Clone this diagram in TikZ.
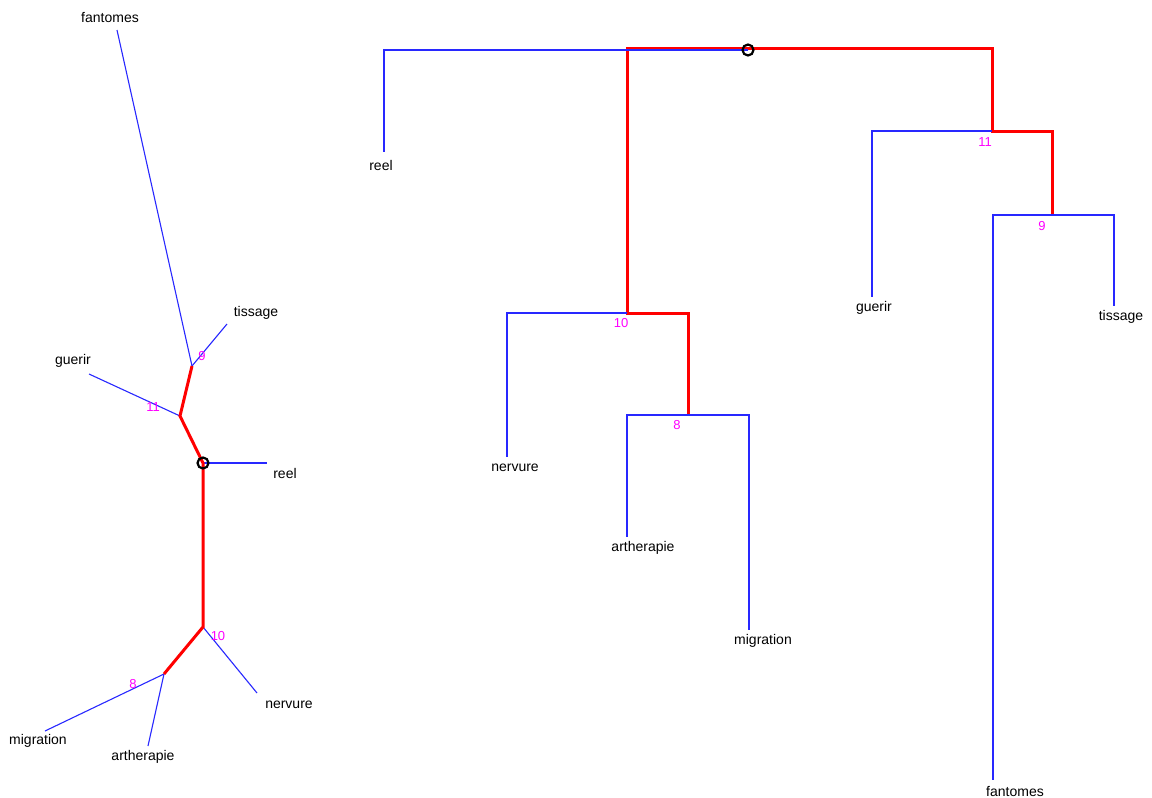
\documentclass[tikz,border=0pt]{standalone}
\usepackage{fontspec}
\setmainfont{Liberation Sans}
\usepackage{xcolor}
\usetikzlibrary{positioning,calc}

\definecolor{treeblue}{RGB}{40,40,255}
\definecolor{treered}{RGB}{255,0,0}
\definecolor{treemag}{RGB}{255,0,255}

\begin{document}
\begin{tikzpicture}[x=1pt,y=-1pt,
	branch/.style={treeblue,line width=1.4pt},
	thinbranch/.style={treeblue,line width=1.1pt},
	path8/.style={treered,line width=3pt,line join=miter},
	leaf/.style={inner sep=0pt,font=\fontsize{14}{14}\selectfont},
	num/.style={inner sep=0pt,text=treemag,font=\fontsize{13}{13}\selectfont},
	rootmark/.style={draw=black,line width=2.2pt,circle,inner sep=0pt,minimum width=9pt,minimum height=11pt}]
	\useasboundingbox (0,0) rectangle (1152,798);
	
	% unrooted tree (left)
	\coordinate (L0) at (203,463);
	\coordinate (L11) at (180,416);
	\coordinate (L9) at (192,366);
	\coordinate (L10) at (203,627);
	\coordinate (L8) at (164,674);
	\coordinate (Lfan) at (117,30);
	\coordinate (Ltis) at (227,324);
	\coordinate (Lgue) at (89,374);
	\coordinate (Lree) at (267,463);
	\coordinate (Lner) at (257,693);
	\coordinate (Lmig) at (45,731);
	\coordinate (Lart) at (148,746);
	
	\draw[thinbranch] (L9) -- (Lfan);
	\draw[thinbranch] (L9) -- (Ltis);
	\draw[thinbranch] (L11) -- (Lgue);
	\draw[thinbranch] (L0) -- (Lree);
	\draw[thinbranch] (L10) -- (Lner);
	\draw[thinbranch] (L8) -- (Lmig);
	\draw[thinbranch] (L8) -- (Lart);
	\draw[path8] (L9) -- (L11) -- (L0) -- (L10) -- (L8);
	\node[rootmark] (L0mark) at (L0) {};
	
	\node[leaf] (Lfanlab) at (110,18) {fantomes};
	\node[leaf] (Ltislab) at (256,313) {tissage};
	\node[leaf] (Lguelab) at (73,361) {guerir};
	\node[leaf] (Lreelab) at (285,473) {reel};
	\node[leaf] (Lnerlab) at (289,705) {nervure};
	\node[leaf] (Lmiglab) at (38,741) {migration};
	\node[leaf] (Lartlab) at (143,757) {artherapie};
	
	\node[num] (L9num) at (202,356) {9};
	\node[num] (L11num) at (153,407) {11};
	\node[num] (L10num) at (218,636) {10};
	\node[num] (L8num) at (133,684) {8};
	
	% rooted dendrogram (right)
	\coordinate (R0) at (748,50);
	\coordinate (Rtop) at (992,48);
	\coordinate (R10) at (627,313);
	\coordinate (R8) at (688,415);
	\coordinate (R11) at (992,131);
	\coordinate (R9) at (1052,215);
	\coordinate (Rree) at (384,152);
	\coordinate (Rner) at (507,457);
	\coordinate (Rart) at (627,537);
	\coordinate (Rmig) at (749,630);
	\coordinate (Rgue) at (872,297);
	\coordinate (Rfan) at (993,780);
	\coordinate (Rtis) at (1114,306);
	
	\draw[path8] (R8) |- (R10) |- (Rtop) -- (R11) -| (R9);
	\draw[branch] (R0) -| (Rree);
	\draw[branch] (R10) -| (Rner);
	\draw[branch] (R8) -| (Rart);
	\draw[branch] (R8) -| (Rmig);
	\draw[branch] (R11) -| (Rgue);
	\draw[branch] (R9) -| (Rfan);
	\draw[branch] (R9) -| (Rtis);
	\node[rootmark] (R0mark) at (R0) {};
	
	\node[leaf] (Rreelab) at (381,165) {reel};
	\node[leaf] (Rnerlab) at (515,468) {nervure};
	\node[leaf] (Rartlab) at (643,548) {artherapie};
	\node[leaf] (Rmiglab) at (763,641) {migration};
	\node[leaf] (Rguelab) at (874,308) {guerir};
	\node[leaf] (Rfanlab) at (1015,791) {fantomes};
	\node[leaf] (Rtislab) at (1121,317) {tissage};
	
	\node[num] (R10num) at (621,323) {10};
	\node[num] (R8num) at (677,425) {8};
	\node[num] (R11num) at (985,142) {11};
	\node[num] (R9num) at (1042,226) {9};
\end{tikzpicture}
\end{document}
